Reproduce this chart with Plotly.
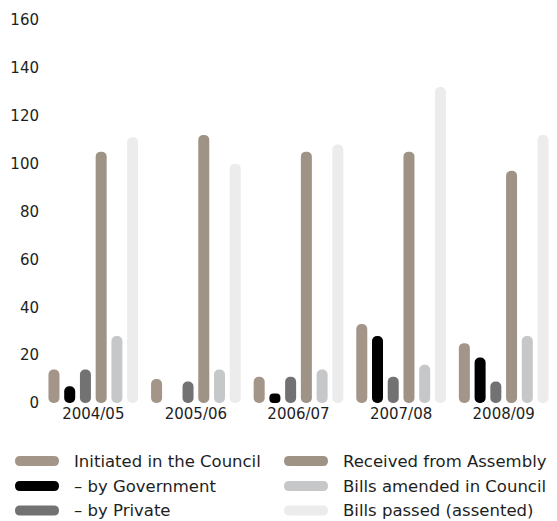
import plotly.graph_objects as go

# ---- data ----
years = ["2004/05", "2005/06", "2006/07", "2007/08", "2008/09"]
initiated_in_council = [14, 10, 11, 33, 25]
by_government = [7, 0, 4, 28, 19]
by_private = [14, 9, 11, 11, 9]
received_from_assembly = [105, 112, 105, 105, 97]
bills_amended = [28, 14, 14, 16, 28]
bills_passed = [111, 100, 108, 132, 112]
y_tick_values = [0, 20, 40, 60, 80, 100, 120, 140, 160]

series_names = [
    "Initiated in the Council",
    "\u2013 by Government",
    "\u2013 by Private",
    "Received from Assembly",
    "Bills amended in Council",
    "Bills passed (assented)",
]
series_values = [initiated_in_council, by_government, by_private,
                 received_from_assembly, bills_amended, bills_passed]
colors = ["#a39689", "#000000", "#727273", "#9f9386", "#c6c7c9", "#ebeceb"]

W, H = 557, 521
ML, MR, MT, MB = 42, 2, 20, 118
FONT = "DejaVu Sans"
TEXT_COLOR = "#1e1e1e"

fig = go.Figure()

# each bar is drawn from its value down to zero so that plotly rounds both ends (pill shape)
for i, (name, vals, col) in enumerate(zip(series_names, series_values, colors)):
    fig.add_trace(go.Bar(
        x=years, y=[-v for v in vals], base=vals, name=name, offsetgroup=str(i),
        marker=dict(color=col, cornerradius="50%", line=dict(width=0)),
        showlegend=False, customdata=vals,
        hovertemplate="%{x}<br>" + name + ": %{customdata}<extra></extra>",
    ))

# ---- manual legend with pill symbols ----
plot_h = H - MT - MB
plot_w = W - ML - MR


def px_x(x):
    return (x - ML) / plot_w


def px_y(y):
    return (H - MB - y) / plot_h


def pill_path(x0, x1, yc, h):
    r = h / 2
    y0, y1 = yc - r, yc + r
    pts = [
        ("M", (x0 + r, y0)),
        ("L", (x1 - r, y0)),
        ("Q", (x1, y0), (x1, yc)),
        ("Q", (x1, y1), (x1 - r, y1)),
        ("L", (x0 + r, y1)),
        ("Q", (x0, y1), (x0, yc)),
        ("Q", (x0, y0), (x0 + r, y0)),
    ]
    out = []
    for seg in pts:
        cmd = seg[0]
        coords = " ".join(f"{px_x(p[0]):.5f},{px_y(p[1]):.5f}" for p in seg[1:])
        out.append(f"{cmd} {coords}")
    return " ".join(out) + " Z"


legend_cols = [(15, 59, 72.5), (284, 328, 342)]
legend_rows = [461, 486, 510.5]
shapes = []
annotations = []
for i, name in enumerate(series_names):
    c = i // 3
    r = i % 3
    sx0, sx1, tx = legend_cols[c]
    yc = legend_rows[r]
    shapes.append(dict(type="path", xref="paper", yref="paper",
                       path=pill_path(sx0, sx1, yc, 10),
                       fillcolor=colors[i], line=dict(width=0), layer="above"))
    annotations.append(dict(text=name, xref="paper", yref="paper",
                            x=px_x(tx), y=px_y(yc), xanchor="left", yanchor="middle",
                            borderpad=0, showarrow=False,
                            font=dict(family=FONT, size=16.5, color=TEXT_COLOR)))

fig.update_layout(
    width=W, height=H, autosize=False,
    margin=dict(l=ML, r=MR, t=MT, b=MB, pad=0),
    paper_bgcolor="white", plot_bgcolor="white",
    barmode="group", bargap=0.08, bargroupgap=0.3,
    font=dict(family=FONT, size=15, color=TEXT_COLOR),
    xaxis=dict(showgrid=False, showline=False, zeroline=False, ticks="",
               tickfont=dict(family=FONT, size=15, color=TEXT_COLOR)),
    yaxis=dict(range=[0, 160], tickvals=y_tick_values, showgrid=False, showline=False,
               zeroline=False, ticks="", ticklabelstandoff=2,
               tickfont=dict(family=FONT, size=15, color=TEXT_COLOR)),
    shapes=shapes, annotations=annotations, showlegend=False,
)

fig.write_html(
    "out.html",
    config={"displayModeBar": False},
    post_script="document.body.style.margin='0';document.body.style.padding='0';"
                "document.body.style.overflow='hidden';",
)
